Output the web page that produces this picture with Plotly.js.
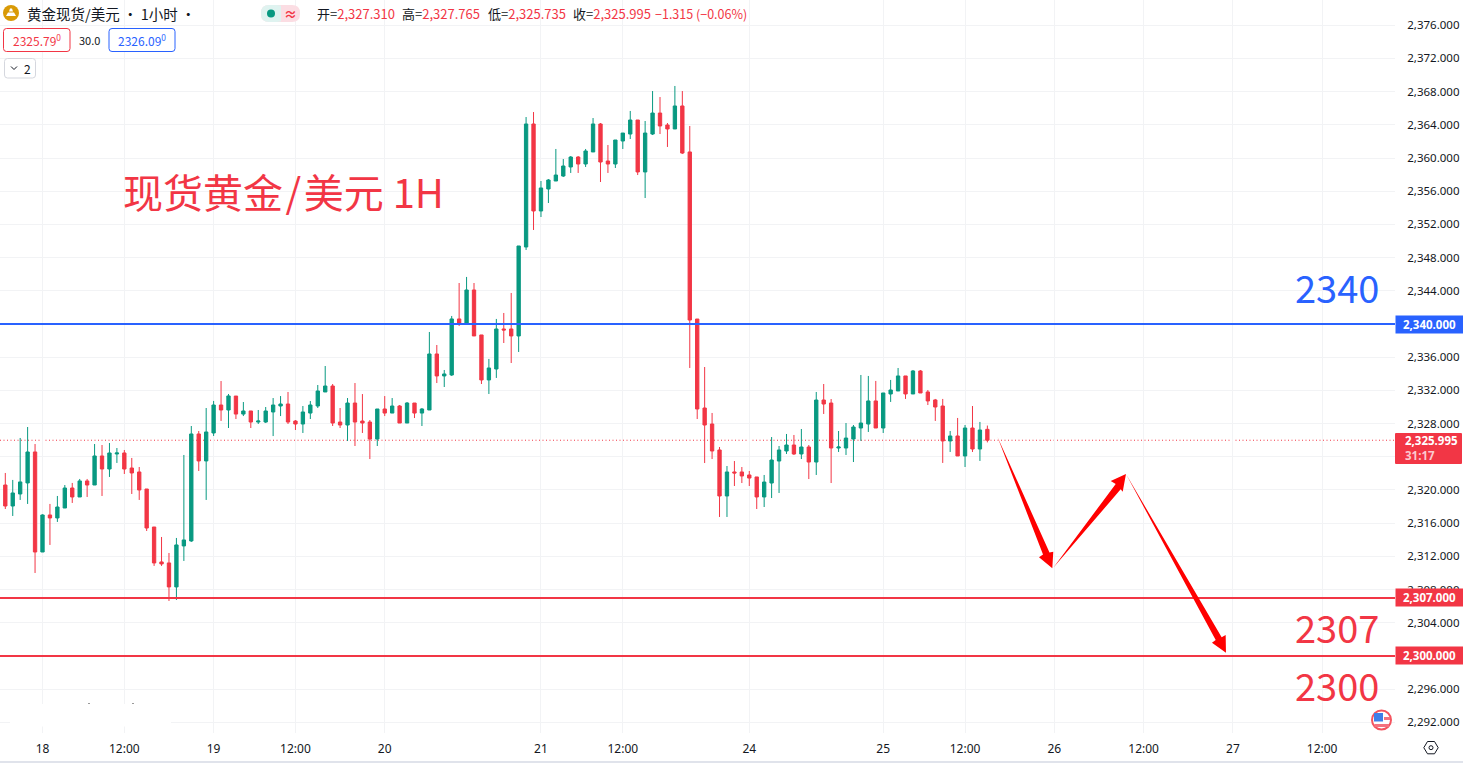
<!DOCTYPE html>
<html><head><meta charset="utf-8">
<script src="https://cdn.plot.ly/plotly-3.0.0.min.js"></script>
<style>html,body{margin:0;padding:0;background:#fff;overflow:hidden}</style>
</head><body><div id="chart" style="width:1463px;height:763px"></div>
<script>
const open=[2320.60,2318.07,2319.52,2320.85,2324.58,2312.53,2316.99,2316.63,2317.83,2320.24,
2319.16,2321.09,2320.60,2324.10,2322.53,2324.34,2324.46,2322.65,2322.17,2320.12,
2315.54,2311.33,2311.21,2308.32,2313.26,2313.86,2326.75,2323.50,2326.87,2330.24,
2329.64,2331.32,2329.15,2329.52,2328.19,2328.19,2329.40,2330.12,2330.36,2328.31,
2327.95,2329.27,2330.12,2331.81,2332.53,2328.19,2327.83,2330.48,2328.31,2328.19,
2326.14,2329.76,2329.27,2330.12,2328.07,2330.48,2329.27,2329.64,2336.39,2333.74,
2333.86,2340.61,2340.08,2344.10,2338.68,2333.26,2334.58,2339.40,2339.40,2338.56,
2349.28,2364.10,2353.62,2356.27,2357.23,2357.83,2358.92,2360.12,2359.28,2360.73,
2364.10,2359.64,2359.28,2362.05,2362.89,2364.58,2358.32,2362.89,2365.42,2363.98,
2363.50,2366.27,2360.73,2340.60,2329.88,2327.95,2324.82,2319.28,2322.17,2322.17,
2321.81,2321.57,2319.16,2320.84,2323.49,2324.70,2325.42,2324.34,2325.18,2323.37,
2330.84,2330.48,2325.06,2325.06,2326.14,2327.47,2327.95,2330.73,2327.47,2331.57,
2331.93,2333.74,2331.57,2334.34,2331.81,2330.85,2330.12,2325.91,2326.51,2324.10,
2327.47,2324.94,2327.31];
const high=[2322.05,2321.21,2326.27,2327.59,2325.54,2317.07,2318.32,2319.28,2320.60,2320.85,
2321.33,2321.33,2325.54,2325.42,2325.66,2325.06,2324.82,2323.86,2322.77,2320.12,
2315.54,2314.34,2312.41,2314.22,2324.22,2327.71,2327.11,2329.88,2330.73,2333.13,
2331.57,2331.32,2330.60,2329.52,2329.64,2330.00,2331.08,2331.32,2331.81,2328.43,
2330.12,2330.72,2332.65,2334.94,2332.77,2329.88,2331.08,2332.89,2331.56,2328.43,
2329.76,2331.32,2331.08,2330.24,2330.60,2330.48,2329.88,2339.04,2337.47,2334.46,
2340.97,2344.94,2345.67,2344.94,2338.68,2335.79,2340.61,2341.33,2343.74,2349.40,
2364.94,2365.54,2357.23,2357.47,2361.09,2359.88,2360.24,2360.24,2361.09,2364.82,
2364.22,2361.57,2362.17,2363.01,2365.67,2364.58,2364.46,2368.07,2367.35,2364.22,
2368.68,2368.07,2363.86,2340.60,2334.82,2329.28,2325.18,2322.89,2323.49,2322.77,
2322.29,2321.57,2321.81,2326.38,2325.30,2326.75,2326.63,2327.35,2325.42,2331.81,
2332.77,2330.96,2327.11,2328.07,2327.83,2333.86,2333.74,2333.14,2331.69,2333.26,
2334.70,2333.74,2334.46,2334.46,2332.05,2330.97,2330.97,2327.11,2328.68,2327.83,
2330.12,2328.20,2327.765];
const low=[2317.71,2316.87,2318.80,2318.32,2310.00,2312.53,2313.38,2316.15,2317.83,2318.44,
2319.16,2319.16,2320.60,2319.28,2321.57,2323.26,2321.93,2319.52,2318.80,2315.06,
2310.85,2310.85,2306.63,2306.75,2311.45,2313.74,2322.29,2318.80,2326.51,2328.32,
2327.47,2328.55,2328.91,2327.47,2327.95,2328.07,2326.50,2328.91,2327.95,2327.23,
2326.87,2328.55,2329.88,2331.81,2327.71,2327.47,2325.90,2325.30,2326.87,2323.73,
2325.30,2328.91,2329.27,2328.07,2328.07,2328.67,2327.71,2329.64,2332.89,2332.41,
2333.74,2339.76,2340.00,2338.56,2332.77,2331.57,2333.50,2337.71,2335.30,2336.63,
2348.92,2351.33,2352.89,2354.58,2357.23,2357.71,2358.20,2358.20,2358.92,2360.73,
2357.11,2358.20,2358.80,2361.09,2362.29,2357.95,2355.18,2362.77,2362.89,2361.33,
2363.50,2360.48,2334.70,2328.55,2323.25,2323.73,2316.75,2316.75,2320.48,2320.84,
2320.48,2317.71,2317.95,2319.03,2319.64,2324.34,2324.22,2323.73,2321.32,2321.81,
2329.16,2320.84,2324.58,2324.22,2323.37,2325.91,2326.99,2327.47,2326.87,2330.61,
2331.93,2330.97,2331.57,2331.69,2330.24,2328.32,2323.26,2324.58,2324.10,2322.77,
2324.58,2323.50,2325.735];
const close=[2318.07,2319.64,2320.97,2324.58,2312.53,2316.99,2316.63,2317.95,2320.24,2319.16,
2321.09,2320.60,2324.10,2322.53,2324.46,2324.46,2322.53,2322.05,2320.00,2315.42,
2311.21,2311.09,2308.32,2313.38,2313.98,2326.75,2323.50,2326.99,2330.24,2329.64,
2331.33,2329.15,2329.52,2328.19,2328.31,2329.52,2330.24,2330.36,2328.19,2327.95,
2329.40,2330.24,2331.93,2332.53,2328.07,2327.83,2330.48,2328.19,2328.07,2326.14,
2329.76,2329.27,2330.12,2328.07,2330.48,2329.27,2329.76,2336.39,2333.74,2333.98,
2340.61,2340.08,2344.10,2338.56,2333.26,2334.70,2339.40,2339.28,2338.56,2349.40,
2364.10,2353.62,2356.39,2357.35,2357.95,2359.04,2360.12,2359.28,2360.85,2364.10,
2359.52,2359.28,2362.17,2363.01,2364.58,2358.32,2363.01,2365.42,2363.86,2363.50,
2366.27,2360.60,2340.48,2329.76,2327.83,2324.70,2319.28,2322.17,2322.05,2321.69,
2321.44,2319.16,2320.96,2323.61,2324.82,2325.42,2324.34,2325.18,2323.37,2330.84,
2330.36,2325.06,2325.18,2326.26,2327.59,2328.07,2330.73,2327.47,2331.69,2332.05,
2333.74,2331.57,2334.34,2331.69,2330.73,2330.00,2325.91,2326.51,2324.10,2327.47,
2324.94,2327.23,2325.995];
const barIndex=open.map((_,i)=>i);

const xTickBars=[5,16,28,39,51,72,83,100,118,129,141,153,165,177];
const xTickText=['18','12:00','19','12:00','20','21','12:00','24','25','12:00','26','12:00','27','12:00'];
const priceTicks=[2292,2296,2304,2308,2312,2316,2320,2328,2332,2336,2344,2348,2352,2356,2360,2364,2368,2372,2376];
const hiddenPriceTicks=[2300,2324,2340];
const levelBlue=2340, levelRed1=2307, levelRed2=2300, lastPrice=2325.995;

const arrow1X=[133.36,140.35,140.86,140.73,138.94,139.48,133.36];
const arrow1Y=[2326.39,2312.47,2312.57,2310.57,2311.89,2312.23,2326.39];
const arrow2X=[140.86,149.25,148.58,150.63,150.19,149.92,140.86];
const arrow2Y=[2310.64,2320.72,2321.08,2321.93,2319.80,2320.08,2310.64];
const arrow3X=[150.63,163.49,164.03,164.07,162.19,162.69,150.63];
const arrow3Y=[2321.93,2302.25,2302.53,2300.40,2301.60,2301.93,2321.93];

const GREEN='#089981',RED='#F23645',BLUE='#2962FF',INK='#131722',GRID='#f2f3f5';
const W=1463,H=763,PR=1395,PB=733;
const XR=[-0.712,186.79];
const CJK='"Noto Sans CJK SC","Noto Sans",sans-serif';
const NUM='"Noto Sans",sans-serif';
const px=x=>x/PR, py=y=>1-y/PB;

const arrow=(x,y)=>({type:'scatter',mode:'none',x,y,fill:'toself',fillcolor:'#ff0000',hoverinfo:'skip',showlegend:false});
const level=(y,color)=>({type:'scatter',mode:'lines',x:XR,y:[y,y],line:{color,width:2},hoverinfo:'skip',showlegend:false});
const data=[
 {type:'candlestick',x:barIndex,open,high,low,close,
  increasing:{line:{color:GREEN,width:1},fillcolor:GREEN},
  decreasing:{line:{color:RED,width:1},fillcolor:RED},
  whiskerwidth:0,hoverinfo:'skip',showlegend:false},
 level(levelBlue,BLUE),level(levelRed1,RED),level(levelRed2,RED),
 arrow(arrow1X,arrow1Y),arrow(arrow2X,arrow2Y),arrow(arrow3X,arrow3Y)
];
const hline=(y,color,width,dash)=>({type:'line',xref:'paper',x0:0,x1:1,yref:'y',y0:y,y1:y,line:{color,width,dash:dash||'solid'},layer:'below'});
const pbox=(x0,y0,x1,y1,o)=>Object.assign({type:'rect',xref:'paper',yref:'paper',x0:px(x0),x1:px(x1),y0:py(y0),y1:py(y1),line:{width:0}},o);
const pcirc=(cx,cy,r,o)=>Object.assign({type:'circle',xref:'paper',yref:'paper',x0:px(cx-r),x1:px(cx+r),y0:py(cy-r),y1:py(cy+r),line:{width:0}},o);
const pPath=(pts,o,close)=>Object.assign({type:'path',xref:'paper',yref:'paper',path:pts.map((p,i)=>(i?'L':'M')+px(p[0])+','+py(p[1])).join(' ')+(close?' Z':'')},o);
const rr=(x0,y0,x1,y1,r,o)=>{const X=px,Y=py;return Object.assign({type:'path',xref:'paper',yref:'paper',path:
 `M${X(x0+r)},${Y(y0)} L${X(x1-r)},${Y(y0)} Q${X(x1)},${Y(y0)} ${X(x1)},${Y(y0+r)} L${X(x1)},${Y(y1-r)} Q${X(x1)},${Y(y1)} ${X(x1-r)},${Y(y1)} L${X(x0+r)},${Y(y1)} Q${X(x0)},${Y(y1)} ${X(x0)},${Y(y1-r)} L${X(x0)},${Y(y0+r)} Q${X(x0)},${Y(y0)} ${X(x0+r)},${Y(y0)} Z`},o);};

const shapes=[
 hline(lastPrice,RED,1,'1px,2.5px'),
 // white patch bottom-left with its two specks
 pbox(10,704,171,726.5,{fillcolor:'#fff',layer:'above'}),
 pbox(88,703,90,704,{fillcolor:'#9a9a9a'}),
 pbox(132,703,134,704,{fillcolor:'#9a9a9a'}),
 // header icon
 pcirc(11,13,8,{fillcolor:'#D99A06'}),
 pPath([[6,16],[16,16],[14,12.5],[8,12.5]],{fillcolor:'#fff',line:{width:0}},true),
 pPath([[9,11.5],[13,11.5],[12,8.5],[10,8.5]],{fillcolor:'#fff',line:{width:0}},true),
 // status pill
 rr(261,5,300,22,8,{fillcolor:'#FBDDE3',line:{width:0}}),
 rr(261,5,285,22,8,{fillcolor:'#DFF3F0',line:{width:0}}),
 pbox(281,5,285,22,{fillcolor:'#FBDDE3'}),
 pcirc(271,13.5,4,{fillcolor:GREEN}),
 // buy / sell boxes
 rr(3.5,28.5,70,51.5,3,{fillcolor:'#fff',line:{color:RED,width:1}}),
 rr(109,28.5,175,51.5,3,{fillcolor:'#fff',line:{color:BLUE,width:1}}),
 rr(4.5,58.5,35.5,78,3,{fillcolor:'#fff',line:{color:'#d5d7de',width:1}}),
 pPath([[11,66.5],[14,69.5],[17,66.5]],{line:{color:INK,width:1}}),
 // last-price label background
 rr(1395,433,1462,464,1,{fillcolor:RED,line:{width:0}}),
 // flag
 pcirc(1381.5,720,9.5,{fillcolor:'#fff',line:{color:'#F4545F',width:2}}),
 pbox(1384,717,1390,720,{fillcolor:'#F4727F'}),
 pbox(1374.5,724,1389,727,{fillcolor:'#F4727F'}),
 pbox(1374,713,1383,721.5,{fillcolor:'#3F7FE8'}),
 // settings
 pPath([[1423.8,747.7],[1427.5,741.5],[1434.5,741.5],[1438.2,747.7],[1434.5,753.8],[1427.5,753.8]],{line:{color:INK,width:1},fillcolor:'rgba(0,0,0,0)'},true),
 pcirc(1431,747.7,2,{fillcolor:'#fff',line:{color:INK,width:1}}),
 // bottom line
 pbox(0,761,W,763,{fillcolor:'#e0e3eb'})
];
const note=(x,y,text,size,color,anchor,extra)=>Object.assign({xref:'paper',yref:'paper',x:px(x),y:py(y),text,showarrow:false,xanchor:anchor||'left',yanchor:'middle',align:anchor||'left',font:{family:CJK,size,color},borderpad:0},extra||{});
const V=t=>`<span style="color:${RED}">${t}</span>`;
const pill=(y,text,bg)=>({xref:'paper',yref:'y',x:1,xanchor:'left',y,yanchor:'middle',text,showarrow:false,bgcolor:bg,width:67,height:17,align:'center',font:{family:NUM,size:11.5,color:'#fff'},borderpad:0});

const annotations=[
 note(26,13,'黄金现货/美元 · 1小时 ·',14.5,INK),
 note(316,14,`开=${V('2,327.310')}`,13,INK),
 note(401,14,`高=${V('2,327.765')}`,13,INK),
 note(487,14,`低=${V('2,325.735')}`,13,INK),
 note(572,14,`收=${V('2,325.995')}`,13,INK),
 note(654,14,V('−1.315 (−0.06%)'),12.5,INK),
 note(290.5,13.5,'<b>≈</b>',13,RED,'center'),
 note(36.5,40,'2325.79<sup>0</sup>',12,RED,'center'),
 note(89,40,'30.0',11,INK,'center'),
 note(142,40,'2326.09<sup>0</sup>',12,BLUE,'center'),
 note(27,68,'2',12,INK,'center'),
 note(122,191,'现货黄金\u200A/\u200A美元 1H',40,RED),
 note(1336.5,286.5,'2340',38,BLUE,'center'),
 note(1336.5,626.5,'2307',38,RED,'center'),
 note(1336.5,684.5,'2300',38,RED,'center'),
 pill(levelBlue,'<b>2,340.000</b>',BLUE),
 pill(levelRed1,'<b>2,307.000</b>',RED),
 pill(levelRed2,'<b>2,300.000</b>',RED),
 Object.assign(note(1404,441,'<b>2,325.995</b>',11.5,'#fff'),{font:{family:NUM,size:11.5,color:'#fff'}}),
 Object.assign(note(1404,455,'<b>31:17</b>',11.5,'#FBC9CF'),{font:{family:NUM,size:11.5,color:'#FBC9CF'}})
];

const layout={
 width:W,height:H,margin:{l:0,r:68,t:0,b:30,pad:0},
 paper_bgcolor:'#fff',plot_bgcolor:'#fff',showlegend:false,boxgap:0.36,dragmode:false,
 xaxis:{range:XR,tickmode:'array',tickvals:xTickBars,ticktext:xTickText,rangeslider:{visible:false},
  showgrid:true,gridcolor:GRID,gridwidth:1,zeroline:false,showline:false,ticks:'outside',ticklen:5,tickcolor:'rgba(0,0,0,0)',tickfont:{family:NUM,size:12,color:INK},automargin:false},
 yaxis:{range:[2290.72,2379.04],side:'right',tickmode:'array',tickvals:priceTicks,tickformat:',.3f',
  minor:{tickmode:'array',tickvals:hiddenPriceTicks,showgrid:true,gridcolor:GRID,gridwidth:1,ticks:''},
  showgrid:true,gridcolor:GRID,gridwidth:1,zeroline:false,showline:false,ticks:'outside',ticklen:9,tickcolor:'rgba(0,0,0,0)',tickfont:{family:NUM,size:11.5,color:INK},automargin:false},
 shapes,annotations
};
Plotly.newPlot('chart',data,layout,{displayModeBar:false,staticPlot:true});
</script></body></html>
